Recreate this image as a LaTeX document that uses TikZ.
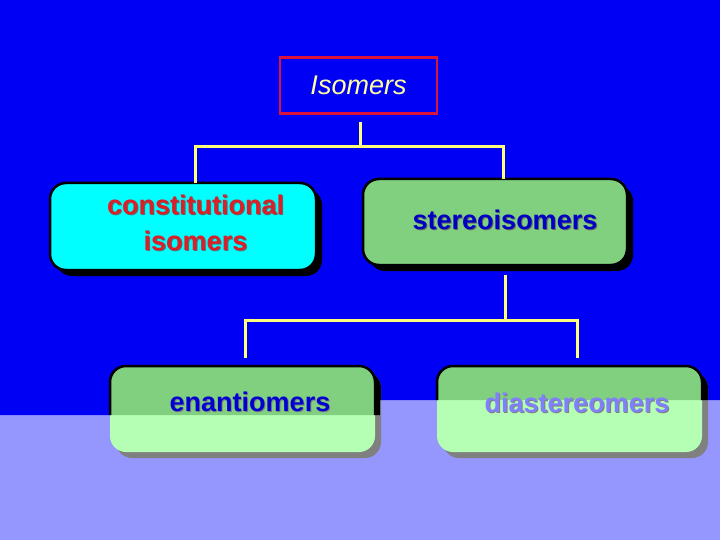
\documentclass[tikz,border=0pt]{standalone}
\usepackage{fontspec}
\setmainfont{Liberation Sans}
\begin{document}
\begin{tikzpicture}[x=1pt,y=-1pt,
  box/.style={draw=black,line width=2.5pt,rounded corners=16pt},
  conn/.style={draw={rgb,255:red,255;green,255;blue,120},line width=3pt},
  lbl/.style={font=\fontsize{27}{36}\selectfont\bfseries,align=center}]
\definecolor{bgblue}{RGB}{0,0,245}
\definecolor{lav}{RGB}{150,150,255}
\definecolor{cyanb}{RGB}{0,255,255}
\definecolor{greenb}{RGB}{128,208,128}
\definecolor{lgreen}{RGB}{180,255,180}
\definecolor{lblue}{RGB}{128,128,255}
\useasboundingbox (0,0) rectangle (720,540);
\fill[lav] (0,0) rectangle (720,540);
\fill[bgblue] (0,0) -- (720,0) -- (720,400) -- (380,400) -- (380,415) -- (0,415) -- cycle;
% top
\node[draw={rgb,255:red,220;green,20;blue,60},line width=2.5pt,minimum width=157pt,minimum height=56pt,
  font=\fontsize{27}{30}\selectfont\itshape,text={rgb,255:red,255;green,255;blue,160}] (iso) at (358.5,85.5) {Isomers};
% shadows
\fill[black,rounded corners=16pt] (56,189) rectangle (322,276);
\fill[black,rounded corners=16pt] (369,185) rectangle (633,271);
\fill[gray,rounded corners=16pt] (116,372) rectangle (381,458);
\fill[gray,rounded corners=16pt] (443,372) rectangle (708,458);
\begin{scope}
  \clip (0,0) -- (720,0) -- (720,400) -- (380,400) -- (380,415) -- (0,415) -- cycle;
  \fill[black,rounded corners=16pt] (116,372) rectangle (381,458);
  \fill[black,rounded corners=16pt] (443,372) rectangle (708,458);
\end{scope}
% boxes
\path[box,fill=cyanb] (50,183) rectangle (316,270);
\path[box,fill=greenb] (363,179) rectangle (627,265);
\foreach \a/\b in {110/375,437/702}{
  \fill[lgreen,rounded corners=16pt] (\a,366) rectangle (\b,452);
  \begin{scope}
    \clip (0,0) -- (720,0) -- (720,400) -- (380,400) -- (380,415) -- (0,415) -- cycle;
    \fill[greenb,rounded corners=16pt] (\a,366) rectangle (\b,452);
    \draw[black,line width=2.5pt,rounded corners=16pt] (\a,366) rectangle (\b,452);
  \end{scope}}
\node[lbl,text=black!60] at (196.5,224) {constitutional\\isomers};
\node[lbl,text={rgb,255:red,220;green,30;blue,40}] (con) at (195.5,223) {constitutional\\isomers};
\node[lbl,text=black!60] at (506,221) {stereoisomers};
\node[lbl,text=bgblue!80!black] (ste) at (505,220) {stereoisomers};
\node[lbl,text=black!50] at (251,403) {enantiomers};
\node[lbl,text=bgblue!85!black] (ena) at (250,402) {enantiomers};
\node[lbl,text=gray] at (578,404) {diastereomers};
\node[lbl,text=lblue] (dia) at (577,403) {diastereomers};
% connectors
\coordinate (j1) at (360,147);
\coordinate (j2) at (505,320);
\draw[conn] (360,122) -- (j1);
\draw[conn] (195,183) |- (503,147) -- (503,179);
\draw[conn] (505,275) -- (j2);
\draw[conn] (245,358) |- (577,320) -- (577,358);
\end{tikzpicture}
\end{document}
